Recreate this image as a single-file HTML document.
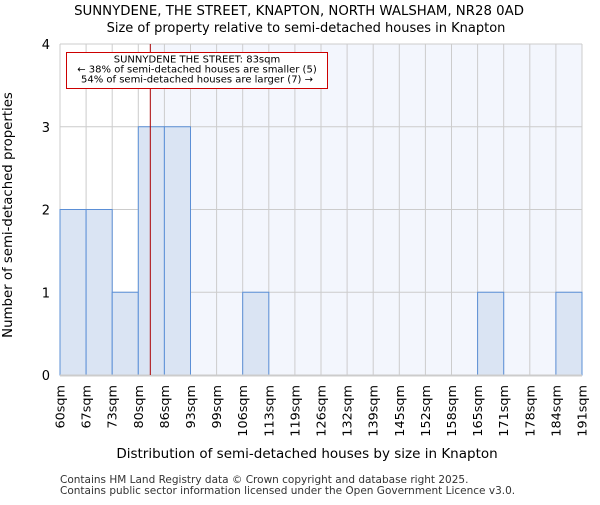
<!DOCTYPE html>
<html><head><meta charset="utf-8"><style>body{margin:0;background:#fff}svg text{font-family:"DejaVu Sans","Liberation Sans",sans-serif}</style></head>
<body>
<svg id="c" width="600" height="500"></svg>
<script>
const ticks=["60sqm","67sqm","73sqm","80sqm","86sqm","93sqm","99sqm","106sqm","113sqm","119sqm","126sqm","132sqm","139sqm","145sqm","152sqm","158sqm","165sqm","171sqm","178sqm","184sqm","191sqm"];
const counts=[2,2,1,3,3,0,0,1,0,0,0,0,0,0,0,0,1,0,0,1];
const yTicks=[0,1,2,3,4];
const markerBin=3.46;
const NS="http://www.w3.org/2000/svg",s=document.getElementById('c');
const x0=60,x1=582,y0=375,y1=44;
const bw=(x1-x0)/counts.length;
const X=i=>x0+i*bw, Y=v=>y0-(v/4)*(y0-y1);
function el(t,a,txt){const e=document.createElementNS(NS,t);for(const k in a)e.setAttribute(k,a[k]);if(txt!=null)e.textContent=txt;s.appendChild(e);return e;}
const mx=X(markerBin);
let e=el('rect',{x:x0,y:y1,width:mx-x0,height:y0-y1,fill:'#ffffff'});

e=el('rect',{x:mx,y:y1,width:x1-mx,height:y0-y1,fill:'#f3f6fd'});

for(let i=0;i<=counts.length;i++){e=el('line',{x1:X(i),x2:X(i),y1:y1,y2:y0,stroke:'#cccccc','stroke-width':1});
}
yTicks.forEach(v=>{e=el('line',{x1:x0,x2:x1,y1:Y(v),y2:Y(v),stroke:'#cccccc','stroke-width':1});

e=el('text',{x:50,y:Y(v)+5,'font-size':13,'text-anchor':'end',fill:'#000'},v);
});
counts.forEach((c,i)=>{if(!c)return;e=el('rect',{x:X(i),y:Y(c),width:bw,height:y0-Y(c),fill:'#dae4f3',stroke:'#5b8fd6','stroke-width':1});
});
e=el('line',{x1:x0,x2:x1,y1:y0+0.5,y2:y0+0.5,stroke:'#cccccc','stroke-width':2});

ticks.forEach((t,i)=>{const tx=X(i)+4.5,ty=y0+10;e=el('text',{x:tx,y:ty,'font-size':12.8,'text-anchor':'end',transform:`rotate(-90 ${tx} ${ty})`},t);
});
e=el('line',{x1:mx,x2:mx,y1:y1,y2:y0,stroke:'#aa0000','stroke-width':1});

e=el('rect',{x:66.5,y:52.5,width:261,height:36,fill:'#fff',stroke:'#cc0000','stroke-width':1});

const ann=["SUNNYDENE THE STREET: 83sqm","← 38% of semi-detached houses are smaller (5)","54% of semi-detached houses are larger (7) →"];
ann.forEach((t,i)=>{e=el('text',{x:197,y:62.5+i*10,'font-size':10,'text-anchor':'middle'},t);
});
e=el('text',{x:299,y:15,'font-size':13.3,'text-anchor':'middle'},"SUNNYDENE, THE STREET, KNAPTON, NORTH WALSHAM, NR28 0AD");

e=el('text',{x:306,y:32,'font-size':13,'text-anchor':'middle'},"Size of property relative to semi-detached houses in Knapton");

e=el('text',{x:307,y:458,'font-size':13.5,'text-anchor':'middle'},"Distribution of semi-detached houses by size in Knapton");

e=el('text',{x:12,y:215,'font-size':13.3,'text-anchor':'middle',transform:'rotate(-90 12 215)'},"Number of semi-detached properties");

e=el('text',{x:60,y:483,'font-size':10.5,fill:'#333'},"Contains HM Land Registry data © Crown copyright and database right 2025.");

e=el('text',{x:60,y:494,'font-size':10.5,fill:'#333'},"Contains public sector information licensed under the Open Government Licence v3.0.");

</script>
</body></html>
